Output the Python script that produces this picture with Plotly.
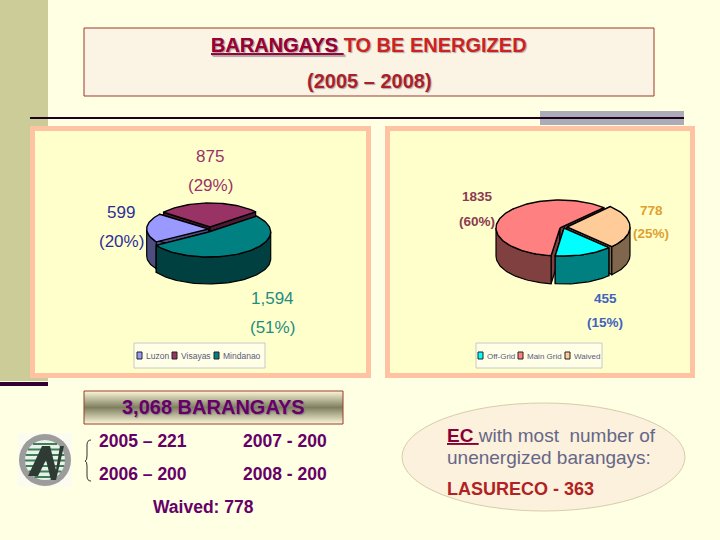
import math
import plotly.graph_objects as go

# left pie, clockwise from the back
region_names = ["Visayas", "Mindanao", "Luzon"]
region_values = [875, 1594, 599]
region_first_lines = ["875", "1,594", "599"]
region_second_lines = ["(29%)", "(51%)", "(20%)"]

# right pie, clockwise
grid_names = ["Main Grid", "Waived", "Off-Grid"]
grid_values = [1835, 778, 455]
grid_first_lines = ["1835", "778", "455"]
grid_second_lines = ["(60%)", "(25%)", "(15%)"]

yearly_labels = ["2005 – 221", "2007 - 200", "2006 – 200", "2008 - 200"]

BG = "#FFFFE3"
PANEL = "#FFFFCC"
PANEL_EDGE = "#FFC3A3"
BOX_EDGE = "#9C3A2C"
PURPLE = "#660066"
ARIAL = "Liberation Sans"

fig = go.Figure()


def arc(cx, cy, rx, ry, t0, t1, dy=0):
    n = max(int(abs(t1 - t0) / 2), 2)
    xs, ys = [], []
    for i in range(n + 1):
        t = math.radians(t0 + (t1 - t0) * i / n)
        xs.append(cx + rx * math.cos(t))
        ys.append(cy - ry * math.sin(t) + dy)
    return xs, ys


def polygon(xs, ys, fill, edge="black", width=1.2, name=""):
    fig.add_trace(go.Scatter(x=xs, y=ys, mode="lines", fill="toself", fillcolor=fill,
                             line=dict(color=edge, width=width), name=name,
                             showlegend=False, hoverinfo="name"))


def pie_slice(name, start, sweep, cx, cy, rx, ry, depth, top, wall):
    t0, t1 = start, start - sweep
    # sides first, the top face goes over them
    for t in (t0, t1):
        ex = cx + rx * math.cos(math.radians(t))
        ey = cy - ry * math.sin(math.radians(t))
        polygon([cx, ex, ex, cx, cx], [cy, ey, ey + depth, cy + depth, cy], wall, name=name)
    # outer wall is only seen on the front half (t between -180 and 0)
    for shift in (0, -360, 360):
        a = min(t0 + shift, 0)
        b = max(t1 + shift, -180)
        if a > b:
            xs, ys = arc(cx, cy, rx, ry, a, b)
            xb, yb = arc(cx, cy, rx, ry, b, a, depth)
            polygon(xs + xb + xs[:1], ys + yb + ys[:1], wall, name=name)
    xs, ys = arc(cx, cy, rx, ry, t0, t1)
    polygon([cx] + xs + [cx], [cy] + ys + [cy], top, width=1.4, name=name)


def draw_pie(names, values, start, centers, rx, ry, depth, tops, walls):
    total = sum(values)
    angle = start
    # sweep comes from the values, slices drawn back to front
    sweeps = {}
    for n, v in zip(names, values):
        sweeps[n] = (angle, v / total * 360)
        angle -= v / total * 360
    for n in centers:
        c = centers[n]
        pie_slice(n, sweeps[n][0], sweeps[n][1], c[0], c[1], rx[n], ry[n], depth, tops[n], walls[n])


def text(x, y, s, size, color, bold=False, family=ARIAL, anchor="center", shadow="none"):
    fig.add_annotation(x=x, y=y, text=f"<b>{s}</b>" if bold else s, showarrow=False,
                       xref="x", yref="y", xanchor=anchor, yanchor="middle",
                       font=dict(size=size, color=color, family=family, shadow=shadow))


def rect(x0, y0, x1, y1, fill, edge=None, width=0):
    fig.add_shape(type="rect", x0=x0, y0=y0, x1=x1, y1=y1, fillcolor=fill, layer="below",
                  line=dict(color=edge or fill, width=width))


# slide furniture
rect(0, 0, 48, 381, "#CCCC99")
rect(0, 382, 48, 386, "#330033")
rect(540, 111, 684, 125, "#ACACB8")
rect(30, 117, 684, 119, "#1F001F")
rect(84, 28, 654, 96, "#FBF3E4", BOX_EDGE, 1)
rect(32.5, 128.5, 368.5, 375.5, PANEL, PANEL_EDGE, 5)
rect(387.5, 128.5, 692.5, 375.5, PANEL, PANEL_EDGE, 5)

# left pie, Visayas pulled up and Luzon pulled out
draw_pie(region_names, region_values, 142,
         {"Visayas": (210, 227), "Luzon": (208.7, 229), "Mindanao": (208.7, 232)},
         {"Visayas": 59, "Luzon": 62, "Mindanao": 62},
         {"Visayas": 24, "Luzon": 24, "Mindanao": 25}, 27,
         {"Visayas": "#993366", "Luzon": "#9999FF", "Mindanao": "#008080"},
         {"Visayas": "#4D1A33", "Luzon": "#4D4D80", "Mindanao": "#004040"})

# right pie
draw_pie(grid_names, grid_values, -98,
         {"Main Grid": (560, 228), "Waived": (567, 227), "Off-Grid": (564, 228)},
         {"Main Grid": 64, "Waived": 63, "Off-Grid": 63},
         {"Main Grid": 28, "Waived": 28, "Off-Grid": 28}, 28,
         {"Main Grid": "#FF8080", "Waived": "#FFCC99", "Off-Grid": "#00FFFF"},
         {"Main Grid": "#804040", "Waived": "#80664D", "Off-Grid": "#008080"})

# pie labels
region_colors = ["#993366", "#1F8C80", "#2E2E99"]
region_pos = [(210, 156, 185), (272, 298, 327), (121, 212, 241)]
for a, b, c, p in zip(region_first_lines, region_second_lines, region_colors, region_pos):
    text(p[0], p[1], a, 17, c)
    text(p[0], p[2], b, 17, c)

grid_colors = ["#8C3A50", "#E0A030", "#3F62BF"]
grid_pos = [(477, 196, 221), (651, 210, 233), (605, 298, 322)]
for a, b, c, p in zip(grid_first_lines, grid_second_lines, grid_colors, grid_pos):
    text(p[0], p[1], a, 13.5, c, bold=True)
    text(p[0], p[2], b, 13.5, c, bold=True)

# legends
rect(134, 343, 265, 368, "#FFFFE8", "#C8C8C8", 1)
rect(476, 343, 602, 368, "#FFFFE8", "#C8C8C8", 1)
for x, fill, label in [(137, "#9999FF", "Luzon"), (172, "#993366", "Visayas"), (214, "#008080", "Mindanao")]:
    rect(x, 352, x + 5, 359, fill, "#222222", 1)
    text(x + 7, 356, label, 8.5, "#5A5A7A", anchor="left")
for x, fill, label in [(478, "#00FFFF", "Off-Grid"), (518, "#FF8080", "Main Grid"), (565, "#FFCC99", "Waived")]:
    rect(x, 352, x + 5, 359, fill, "#222222", 1)
    text(x + 7, 356, label, 8, "#5A5A7A", anchor="left")

# title
fig.add_annotation(x=369, y=45, showarrow=False, xref="x", yref="y",
                   text='<span style="color:#990033"><b><u>BARANGAYS </u></b></span><b>TO BE ENERGIZED</b>',
                   font=dict(size=20, color="#CC2222", family=ARIAL, shadow="1px 1px 1px #AAAAAA"))
text(369, 81, "(2005 – 2008)", 20, "#AA1F2A", bold=True, shadow="1px 1px 1px #AAAAAA")

# bottom box with the dark band through its middle
fig.add_trace(go.Scatter(x=[84, 343, 343, 84, 84], y=[391, 391, 424, 424, 391], mode="lines",
                         fill="toself", line=dict(color=BOX_EDGE, width=1), hoverinfo="skip",
                         showlegend=False, fillcolor="#FFFFE3",
                         fillgradient=dict(type="vertical", colorscale=[[0, "#FBF8D8"], [0.5, "#7F7F5F"], [1, "#FBF8D8"]])))
text(213, 407, "3,068 BARANGAYS", 20, PURPLE, bold=True, shadow="1px 1px 1px #8A7A8A")

# yearly targets
year_pos = [(97, 441), (241, 441), (97, 474), (241, 474)]
for label, p in zip(yearly_labels, year_pos):
    text(p[0], p[1], label, 17.5, PURPLE, bold=True, anchor="left")
text(203, 507, "Waived: 778", 17.5, PURPLE, bold=True)

# brace
fig.add_shape(type="path", path="M 91 440 Q 87 440 87 445 L 87 456 Q 87 461 85 461 Q 87 461 87 466 L 87 476 Q 87 481 91 481",
              line=dict(color="#333333", width=1))

# logo
rect(18, 433, 72, 487, "#FBFBF0")
fig.add_shape(type="circle", x0=19, y0=434, x1=71, y1=486, fillcolor="#9C9C9C", line=dict(width=0), layer="below")
fig.add_shape(type="circle", x0=25, y0=440, x1=65, y1=480, fillcolor="#E8F2E8", line=dict(width=0), layer="below")
for i in range(7):
    y = 444 + i * 5.5
    half = math.sqrt(max(400 - (y - 460) ** 2, 0))
    fig.add_shape(type="line", x0=45 - half, x1=45 + half, y0=y, y1=y, line=dict(color="#3E7E58", width=2))
fig.add_shape(type="path", path="M 28 476 L 42 446 L 50 446 L 56 470 L 60 446 L 64 446 L 56 480 L 51 480 L 46 460 L 38 476 Z",
              fillcolor="#2E3A34", line=dict(width=0))

# callout oval
fig.add_shape(type="circle", x0=402, y0=403, x1=685, y1=511, fillcolor="#FBF1DC",
              line=dict(color="#D8CCAC", width=1), layer="below")
fig.add_annotation(x=445, y=435, showarrow=False, xref="x", yref="y", xanchor="left",
                   text='<span style="color:#880033"><b><u>EC </u></b></span>with most  number of',
                   font=dict(size=19, color="#666688", family=ARIAL))
text(445, 457, "unenergized barangays:", 19, "#666688", anchor="left")
text(445, 489, "LASURECO - 363", 18, "#B32222", bold=True, anchor="left")

fig.update_layout(
    width=720, height=540, margin=dict(l=0, r=0, t=0, b=0),
    paper_bgcolor=BG, plot_bgcolor=BG, showlegend=False,
    xaxis=dict(range=[0, 720], visible=False, fixedrange=True),
    yaxis=dict(range=[540, 0], visible=False, fixedrange=True),
)

# the page's default body margin would push the slide 8px in
fig.write_html("out.html", config={"displayModeBar": False},
               post_script="document.body.style.margin='0';document.body.style.overflow='hidden';")
